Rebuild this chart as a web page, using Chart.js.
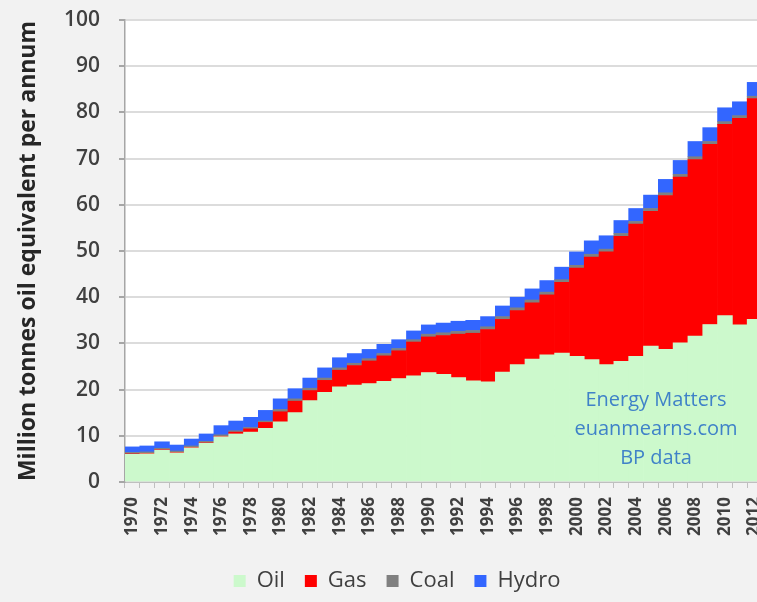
<!DOCTYPE html>
<html>
<head>
<meta charset="utf-8">
<script src="https://cdn.jsdelivr.net/npm/chart.js@4/dist/chart.umd.min.js"></script>
<style>
  html, body { margin: 0; padding: 0; background: #f2f2f2; overflow: hidden; }
  canvas { display: block; }
</style>
</head>
<body>
<canvas id="chartEnergie" width="762" height="602"></canvas>
<script>
// Données (Mtoe), 1970 - 2012
const years = [1970, 1971, 1972, 1973, 1974, 1975, 1976, 1977, 1978, 1979,
               1980, 1981, 1982, 1983, 1984, 1985, 1986, 1987, 1988, 1989,
               1990, 1991, 1992, 1993, 1994, 1995, 1996, 1997, 1998, 1999,
               2000, 2001, 2002, 2003, 2004, 2005, 2006, 2007, 2008, 2009,
               2010, 2011, 2012];

const oil = [6.0, 6.1, 6.9, 6.3, 7.4, 8.4, 9.8, 10.4, 10.8, 11.6,
             13.0, 15.0, 17.6, 19.4, 20.6, 21.0, 21.3, 21.8, 22.4, 23.0,
             23.7, 23.3, 22.6, 21.9, 21.7, 23.8, 25.4, 26.6, 27.5, 27.9,
             27.2, 26.5, 25.4, 26.1, 27.2, 29.4, 28.7, 30.1, 31.6, 34.1,
             36.0, 34.0, 35.2];

const gas = [0.1, 0.1, 0.1, 0.1, 0.1, 0.1, 0.1, 0.4, 0.7, 1.3,
             2.2, 2.5, 2.2, 2.6, 3.6, 4.2, 4.9, 5.5, 6.0, 7.3,
             7.7, 8.4, 9.4, 10.3, 11.3, 11.4, 11.7, 12.2, 13.0, 15.3,
             19.1, 22.2, 24.4, 27.1, 28.6, 29.2, 33.3, 35.9, 38.2, 39.0,
             41.4, 44.7, 47.8];

const coal = [0.3, 0.3, 0.3, 0.3, 0.3, 0.3, 0.3, 0.3, 0.3, 0.3,
              0.5, 0.5, 0.5, 0.5, 0.5, 0.5, 0.5, 0.5, 0.5, 0.5,
              0.6, 0.6, 0.6, 0.6, 0.6, 0.6, 0.6, 0.6, 0.6, 0.6,
              0.6, 0.6, 0.6, 0.6, 0.6, 0.6, 0.6, 0.6, 0.6, 0.6,
              0.6, 0.6, 0.5];

const hydro = [1.2, 1.3, 1.4, 1.3, 1.5, 1.6, 2.0, 2.1, 2.2, 2.3,
               2.3, 2.2, 2.2, 2.2, 2.2, 2.1, 2.0, 2.0, 1.9, 1.9,
               2.0, 2.1, 2.2, 2.2, 2.2, 2.3, 2.3, 2.4, 2.5, 2.7,
               2.9, 2.9, 2.9, 2.8, 2.8, 2.9, 2.9, 3.0, 3.3, 3.0,
               3.0, 3.0, 3.0];

const yTicks = [0, 10, 20, 30, 40, 50, 60, 70, 80, 90, 100];
const noteLines = ['Energy Matters', 'euanmearns.com', 'BP data'];

Chart.defaults.font.family = "'Open Sans', 'DejaVu Sans', sans-serif";
Chart.defaults.color = '#404040';

// fond blanc de la zone de tracé, légende décalée, texte "Energy Matters"
const plotBackground = {
    id: 'plotBackground',
    afterLayout(chart) {
        chart.legend.left += 16;
        chart.legend.right += 16;
    },
    beforeDraw(chart) {
        const a = chart.chartArea;
        const ctx = chart.ctx;
        ctx.save();
        ctx.fillStyle = '#ffffff';
        ctx.fillRect(a.left, a.top, a.right - a.left, a.bottom - a.top);
        ctx.restore();
    },
    afterDatasetsDraw(chart) {
        const a = chart.chartArea;
        const ctx = chart.ctx;
        ctx.save();
        ctx.fillStyle = '#3f82c8';
        ctx.font = "20px 'Open Sans', sans-serif";
        ctx.textAlign = 'center';
        ctx.textBaseline = 'middle';
        noteLines.forEach(function(line, i) {
            ctx.fillText(line, a.right - 106, a.bottom - 82 + i * 29);
        });
        ctx.restore();
    }
};

const ctx = document.getElementById('chartEnergie').getContext('2d');
const chart = new Chart(ctx, {
    type: 'bar',
    data: {
        labels: years,
        datasets: [
            { label: 'Oil', data: oil, backgroundColor: '#ccf9cc' },
            { label: 'Gas', data: gas, backgroundColor: '#ff0000' },
            { label: 'Coal', data: coal, backgroundColor: '#808080' },
            { label: 'Hydro', data: hydro, backgroundColor: '#3366ff' }
        ]
    },
    options: {
        responsive: false,
        animation: false,
        layout: { padding: { top: 20, left: 0, right: 0, bottom: 0 } },
        datasets: {
            bar: { barPercentage: 1, categoryPercentage: 1, borderWidth: 0 }
        },
        plugins: {
            legend: {
                position: 'bottom',
                labels: {
                    boxWidth: 12,
                    boxHeight: 12,
                    padding: 20,
                    color: '#404040',
                    font: { size: 22 }
                }
            },
            tooltip: { enabled: false }
        },
        scales: {
            x: {
                stacked: true,
                afterFit: function(scale) {
                    scale.height = 68;
                    scale.paddingLeft = 0;
                    scale.paddingRight = 0;
                },
                border: { color: '#bfbfbf', width: 1 },
                grid: {
                    drawOnChartArea: false,
                    color: '#bfbfbf',
                    tickLength: 6
                },
                ticks: {
                    autoSkip: false,
                    minRotation: 90,
                    maxRotation: 90,
                    padding: 9,
                    color: '#404040',
                    font: { size: 17, weight: 'bold' },
                    callback: function(value, index) {
                        return index % 2 === 0 ? this.getLabelForValue(value) : '';
                    }
                }
            },
            y: {
                stacked: true,
                min: 0,
                max: 100,
                afterFit: function(scale) {
                    scale.width = 125;
                    scale.paddingTop = 0;
                    scale.paddingBottom = 0;
                },
                afterBuildTicks: function(scale) {
                    scale.ticks = yTicks.map(function(v) { return { value: v }; });
                },
                border: { color: '#a6a6a6', width: 1.5 },
                grid: {
                    color: '#dcdcdc',
                    lineWidth: 2,
                    tickLength: 6,
                    tickColor: '#a6a6a6'
                },
                ticks: {
                    padding: 19,
                    color: '#404040',
                    font: { size: 21, weight: '600' }
                },
                title: {
                    display: true,
                    text: 'Million tonnes oil equivalent per annum',
                    color: '#262626',
                    padding: { top: 15, bottom: 0 },
                    font: { size: 23, weight: 'bold' }
                }
            }
        }
    },
    plugins: [plotBackground]
});
</script>
</body>
</html>
